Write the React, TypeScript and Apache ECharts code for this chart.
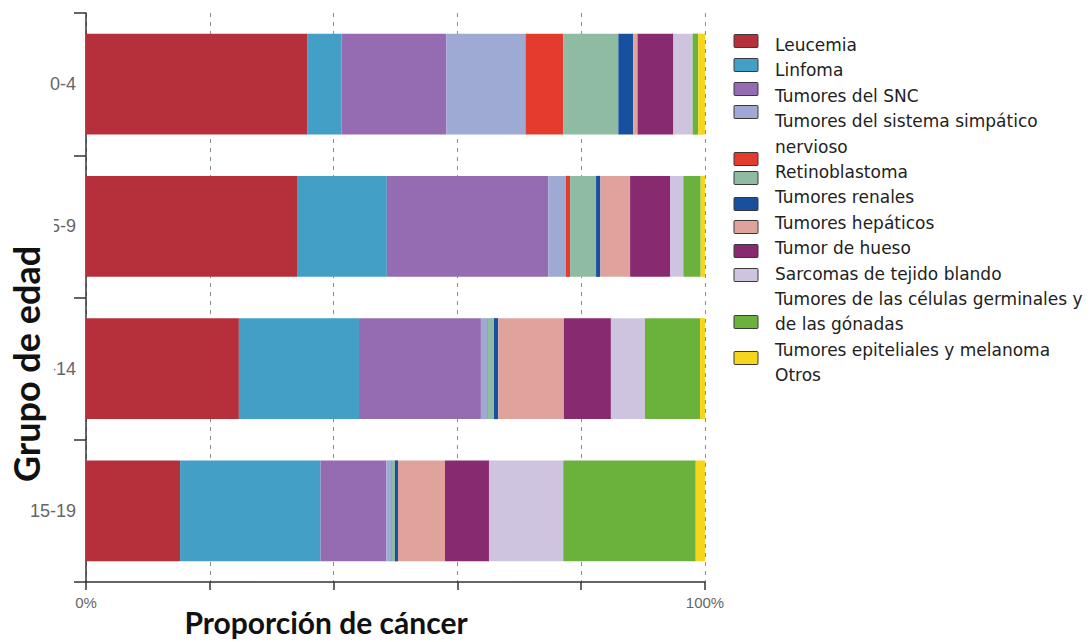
import React, { useEffect, useRef } from "react";
import * as echarts from "echarts";

// ---- data ----
const ageGroups = ["0-4", "5-9", "10-14", "15-19"];
const seriesNames = [
  "Leucemia",
  "Linfoma",
  "Tumores del SNC",
  "Tumores del sistema simpático nervioso",
  "Retinoblastoma",
  "Tumores renales",
  "Tumores hepáticos",
  "Tumor de hueso",
  "Sarcomas de tejido blando",
  "Tumores de las células germinales y de las gónadas",
  "Tumores epiteliales y melanoma",
  "Otros",
];
const legendLabels = [
  "Leucemia",
  "Linfoma",
  "Tumores del SNC",
  "Tumores del sistema simpático\nnervioso",
  "Retinoblastoma",
  "Tumores renales",
  "Tumores hepáticos",
  "Tumor de hueso",
  "Sarcomas de tejido blando",
  "Tumores de las células germinales y\nde las gónadas",
  "Tumores epiteliales y melanoma",
  "Otros",
];
const seriesColors = [
  "#b5303a",
  "#439fc6",
  "#956cb1",
  "#9eaad4",
  "#e33c2e",
  "#8fbba2",
  "#17509f",
  "#e0a39c",
  "#872a6f",
  "#cfc4df",
  "#6bb23d",
  "#f6d51d",
];
// values per age group (0-4, 5-9, 10-14, 15-19), in %
const leucemia = [35.8, 34.2, 24.7, 15.2];
const linfoma = [5.5, 14.4, 19.4, 22.7];
const snc = [16.9, 26.1, 19.7, 10.6];
const simpatico = [12.8, 2.8, 1.0, 0.8];
const retinoblastoma = [6.1, 0.7, 0.1, 0.1];
const renales = [8.9, 4.2, 1.0, 0.5];
const hepaticos = [2.4, 0.7, 0.7, 0.5];
const hueso = [0.7, 4.8, 10.6, 7.6];
const sarcomas = [5.8, 6.5, 7.6, 7.1];
const germinales = [3.1, 2.1, 5.5, 12.0];
const epiteliales = [0.9, 2.8, 8.9, 21.4];
const otros = [1.1, 0.7, 0.8, 1.5];
const seriesValues = [
  leucemia, linfoma, snc, simpatico, retinoblastoma, renales,
  hepaticos, hueso, sarcomas, germinales, epiteliales, otros,
];
const xTickLabels = ["0%", "", "", "", "", "100%"];
const xAxisTitle = "Proporción de cáncer";
const yAxisTitle = "Grupo de edad";

// ---- layout (legend) ----
const swatchCenters = [41, 65, 89, 112, 159, 178, 204, 227, 251, 275, 322, 358];

export default function App() {
  const ref = useRef<HTMLDivElement>(null);
  useEffect(() => {
    const chart = echarts.init(ref.current!, null, { renderer: "svg" });
    const axisColor = "#333";
    const lines: string[] = [];
    legendLabels.forEach((l) => l.split("\n").forEach((s) => lines.push(s)));
    const legendGraphics: any[] = [];
    seriesColors.forEach((c, i) => {
      legendGraphics.push({
        type: "rect",
        z: 100,
        shape: { x: 734, y: swatchCenters[i] - 6.5, width: 24, height: 13, r: 1 },
        style: { fill: c, stroke: "#3a3a3a", lineWidth: 1 },
      });
    });
    lines.forEach((s, i) => {
      legendGraphics.push({
        type: "text",
        z: 100,
        x: 775,
        y: 45 + i * 25.4,
        style: {
          text: s,
          font: "17px 'DejaVu Sans'",
          fill: "#222",
          align: "left",
          verticalAlign: "middle",
        },
      });
    });

    const option: any = {
      animation: false,
      backgroundColor: "#fff",
      grid: { left: 86, right: 385, top: 13, bottom: 60 },
      xAxis: {
        type: "value",
        min: 0,
        max: 100,
        interval: 20,
        axisLine: { show: true, lineStyle: { color: axisColor, width: 1.5 } },
        axisTick: { show: true, length: 8, lineStyle: { color: axisColor, width: 1.5 } },
        axisLabel: {
          formatter: (v: number) => xTickLabels[Math.round(v / 20)],
          color: "#666",
          fontSize: 15,
          margin: 13,
          fontFamily: "'Liberation Sans'",
        },
        splitLine: { show: true, lineStyle: { color: "#8c8c8c", type: [4, 5], width: 1 } },
      },
      yAxis: {
        type: "category",
        data: ageGroups,
        inverse: true,
        axisLine: { show: true, lineStyle: { color: axisColor, width: 1.5 } },
        axisTick: { show: true, length: 12, interval: 0, lineStyle: { color: axisColor, width: 1.5 } },
        axisLabel: { color: "#666", fontSize: 18, margin: 10, fontFamily: "'Liberation Sans'" },
      },
      series: seriesNames.map((name, i) => ({
        name,
        type: "bar",
        stack: "total",
        barWidth: "71%",
        data: seriesValues[i],
        itemStyle: { color: seriesColors[i] },
      })),
      graphic: [
        {
          type: "rect",
          z: 99,
          shape: { x: 0, y: 218, width: 54, height: 272 },
          style: { fill: "#fff" },
        },
        {
          type: "text",
          z: 100,
          x: 26,
          y: 364,
          rotation: Math.PI / 2,
          style: {
            text: yAxisTitle,
            font: "bold 36px Lato",
            fill: "#111",
            align: "center",
            verticalAlign: "middle",
          },
        },
        {
          type: "text",
          z: 100,
          x: 326,
          y: 622,
          style: {
            text: xAxisTitle,
            font: "bold 30px Lato",
            fill: "#111",
            align: "center",
            verticalAlign: "middle",
          },
        },
        ...legendGraphics,
      ],
    };
    chart.setOption(option);
    return () => chart.dispose();
  }, []);
  return (
    <div
      ref={ref}
      style={{ position: "fixed", left: 0, top: 0, width: 1090, height: 642 }}
    />
  );
}
